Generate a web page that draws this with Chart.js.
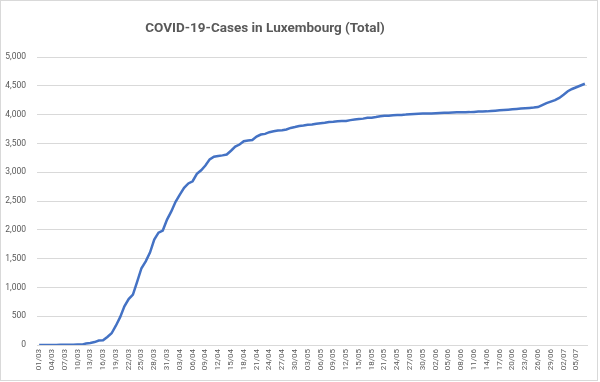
<!DOCTYPE html>
<html>
<head>
<meta charset="utf-8">
<script src="https://cdn.jsdelivr.net/npm/chart.js@4"></script>
<style>
  html, body { margin: 0; padding: 0; background: #ffffff; }
  #wrap { position: relative; width: 600px; height: 382px; }
</style>
</head>
<body>
<div id="wrap"><canvas id="c" width="600" height="382"></canvas></div>
<script>
const chartTitle = "COVID-19-Cases in Luxembourg (Total)";

const dates = [
  "01/03","02/03","03/03","04/03","05/03","06/03","07/03","08/03","09/03","10/03",
  "11/03","12/03","13/03","14/03","15/03","16/03","17/03","18/03","19/03","20/03",
  "21/03","22/03","23/03","24/03","25/03","26/03","27/03","28/03","29/03","30/03","31/03",
  "01/04","02/04","03/04","04/04","05/04","06/04","07/04","08/04","09/04","10/04",
  "11/04","12/04","13/04","14/04","15/04","16/04","17/04","18/04","19/04","20/04",
  "21/04","22/04","23/04","24/04","25/04","26/04","27/04","28/04","29/04","30/04",
  "01/05","02/05","03/05","04/05","05/05","06/05","07/05","08/05","09/05","10/05",
  "11/05","12/05","13/05","14/05","15/05","16/05","17/05","18/05","19/05","20/05",
  "21/05","22/05","23/05","24/05","25/05","26/05","27/05","28/05","29/05","30/05","31/05",
  "01/06","02/06","03/06","04/06","05/06","06/06","07/06","08/06","09/06","10/06",
  "11/06","12/06","13/06","14/06","15/06","16/06","17/06","18/06","19/06","20/06",
  "21/06","22/06","23/06","24/06","25/06","26/06","27/06","28/06","29/06","30/06",
  "01/07","02/07","03/07","04/07","05/07","06/07","07/07"
];

const totalCases = [
  1,1,1,1,2,3,4,5,5,7,
  7,26,34,51,77,81,140,203,335,484,
  670,798,875,1099,1333,1453,1605,1831,1950,1988,2178,
  2319,2487,2612,2729,2804,2843,2970,3034,3115,3223,
  3270,3281,3292,3307,3373,3444,3480,3537,3550,3558,
  3618,3654,3665,3695,3711,3723,3729,3741,3769,3784,
  3802,3812,3824,3828,3840,3851,3859,3871,3877,3886,
  3887,3888,3904,3915,3923,3930,3945,3947,3958,3971,
  3980,3981,3990,3993,3995,4000,4008,4012,4016,4018,4019,
  4020,4024,4027,4030,4034,4037,4039,4040,4041,4043,
  4047,4052,4054,4056,4062,4068,4074,4080,4086,4093,
  4098,4104,4110,4116,4122,4130,4165,4200,4225,4250,
  4290,4345,4405,4445,4475,4505,4536
];

const tickLabels = [
  "01/03","04/03","07/03","10/03","13/03","16/03","19/03","22/03","25/03","28/03","31/03",
  "03/04","06/04","09/04","12/04","15/04","18/04","21/04","24/04","27/04","30/04",
  "03/05","06/05","09/05","12/05","15/05","18/05","21/05","24/05","27/05","30/05",
  "02/06","05/06","08/06","11/06","14/06","17/06","20/06","23/06","26/06","29/06",
  "02/07","05/07"
];

const yMin = 0, yMax = 5000, yStep = 500;

const textColor = "#595959";
const gridColor = "#d9d9d9";

const frameAndTitle = {
  id: "frameAndTitle",
  afterDraw(chart) {
    const ctx = chart.ctx;
    ctx.save();
    ctx.strokeStyle = gridColor;
    ctx.lineWidth = 1;
    ctx.strokeRect(0.5, 0.5, 597, 380);
    ctx.fillStyle = textColor;
    ctx.font = "bold 13.5px Roboto";
    ctx.textAlign = "center";
    ctx.textBaseline = "middle";
    ctx.fillText(chartTitle, 265, 29);
    ctx.restore();
  }
};

new Chart(document.getElementById("c"), {
  type: "line",
  data: {
    labels: dates,
    datasets: [{
      data: totalCases,
      borderColor: "#4472C4",
      borderWidth: 2.5,
      pointRadius: 0,
      tension: 0,
      fill: false
    }]
  },
  options: {
    responsive: false,
    animation: false,
    layout: { padding: { top: 57, right: 13, left: 0, bottom: 0 } },
    plugins: {
      legend: { display: false },
      title: { display: false },
      tooltip: { enabled: false }
    },
    scales: {
      x: {
        type: "category",
        offset: true,
        grid: { display: false, drawTicks: false },
        border: { display: true, color: gridColor, width: 1 },
        ticks: {
          autoSkip: false,
          minRotation: 90,
          maxRotation: 90,
          padding: 4,
          color: textColor,
          font: { family: "Roboto", size: 8 },
          callback: function(value, index) {
            const lab = dates[index];
            return tickLabels.includes(lab) && index % 3 === 0 ? lab : "";
          }
        },
        afterFit(scale) { scale.height = 37; }
      },
      y: {
        min: yMin,
        max: yMax,
        grid: { color: gridColor, drawTicks: false, lineWidth: 1 },
        border: { display: false },
        ticks: {
          stepSize: yStep,
          padding: 11,
          color: textColor,
          font: { family: "Roboto", size: 8.5 },
          callback: v => v.toLocaleString("en-US")
        },
        afterFit(scale) { scale.width = 37; }
      }
    }
  },
  plugins: [frameAndTitle]
});
</script>
</body>
</html>
